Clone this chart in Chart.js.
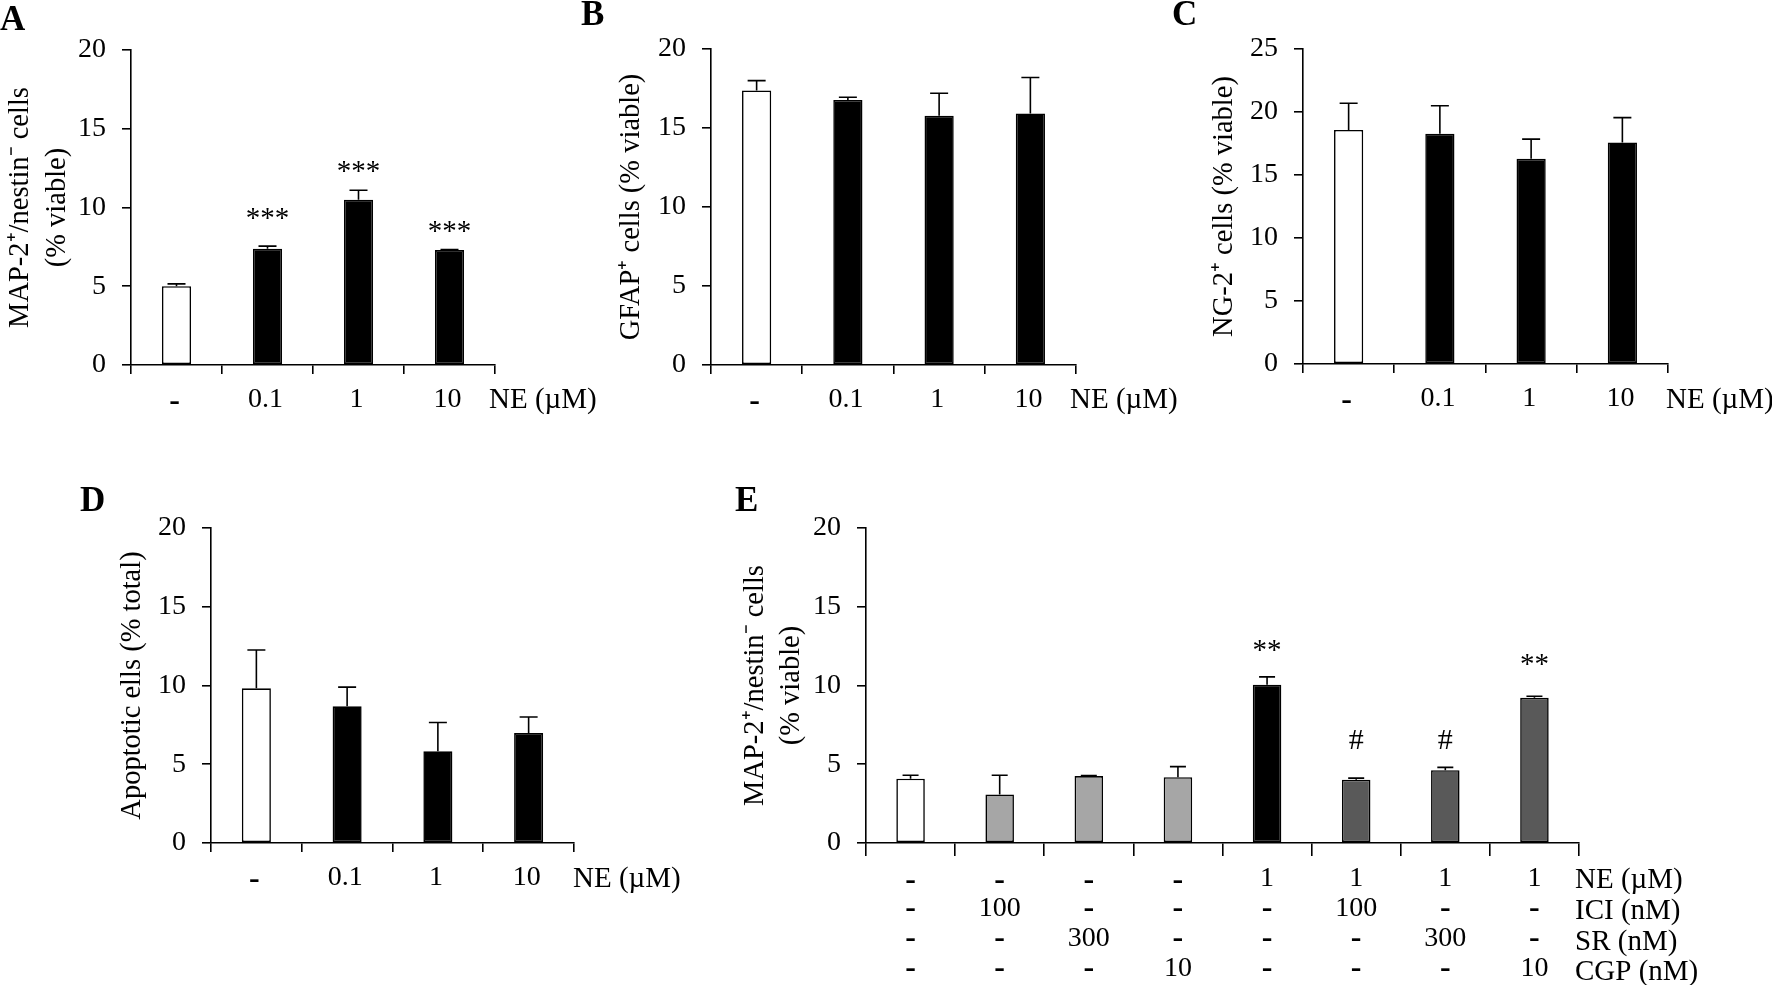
<!DOCTYPE html>
<html><head><meta charset="utf-8">
<script src="https://cdn.jsdelivr.net/npm/chart.js@4"></script>
<style>html,body{margin:0;padding:0;background:#fff;width:1772px;height:985px;overflow:hidden}
canvas{position:absolute;left:0;top:0}</style></head><body>
<script>
// ---- data ----
const neLabels = ['-','0.1','1','10'];
const aValues = [5.0,7.38,10.5,7.3];
const aTops   = [5.15,7.55,11.1,7.33];
const aMarks  = ['','***','***','***'];
const aMarkAt = [0,9.5,12.5,8.7];
const bValues = [17.38,16.78,15.78,15.92];
const bTops   = [18.0,16.95,17.2,18.2];
const cValues = [18.58,18.28,16.28,17.58];
const cTops   = [20.7,20.5,17.85,19.55];
const dValues = [9.82,8.68,5.82,6.98];
const dTops   = [12.25,9.9,7.65,8.0];
const eRowNE  = ['-','-','-','-','1','1','1','1'];
const eRowICI = ['-','100','-','-','-','100','-','-'];
const eRowSR  = ['-','-','300','-','-','-','300','-'];
const eRowCGP = ['-','-','-','10','-','-','-','10'];
const eValues = [4.08,3.08,4.25,4.18,10.05,4.02,4.62,9.22];
const eTops   = [4.3,4.3,4.28,4.85,10.55,4.12,4.8,9.32];
const eMarks  = ['','','','','**','#','#','**'];
const eMarkAt = [0,0,0,0,12.45,6.45,6.45,11.5];

// ---- styling ----
const WHITE='#ffffff', BLACK='#000000', LIGHT='#a6a6a6', DARK='#595959';
const SERIF='"Liberation Serif"';
const W=1772,H=985;

const overlay={
  id:'overlay',
  afterDatasetsDraw(chart,args,o){
    const ctx=chart.ctx,x=chart.scales.x,y=chart.scales.y;
    ctx.save();
    // error bars
    ctx.strokeStyle=BLACK;ctx.lineWidth=1.6;
    const capHalf=o.cap;
    o.tops.forEach((t,i)=>{
      const px=x.getPixelForValue(i),p0=y.getPixelForValue(o.values[i]),p1=y.getPixelForValue(t);
      ctx.beginPath();ctx.moveTo(px,p0);ctx.lineTo(px,p1);
      ctx.moveTo(px-capHalf,p1);ctx.lineTo(px+capHalf,p1);ctx.stroke();
    });
    ctx.fillStyle=BLACK;
    ctx.textBaseline='middle';
    // significance marks
    if(o.marks){
      ctx.textAlign='center';
      o.marks.forEach((m,i)=>{
        if(!m)return;
        ctx.font=(m==='#'?'30px ':'29px ')+SERIF;
        ctx.fillText(m,x.getPixelForValue(i),y.getPixelForValue(o.markAt[i])+(m==='#'?0:4));
      });
    }
    // panel letter
    ctx.textAlign='left';
    ctx.font='bold 35px '+SERIF;
    ctx.fillText(o.letter[0],o.letter[1],o.letter[2]);
    // trailing row labels
    ctx.font='29px '+SERIF;
    o.rowNames.forEach(r=>ctx.fillText(r[0],r[1],r[2]));
    // extra factor rows
    if(o.rows){
      ctx.textAlign='center';
      o.rows.forEach(r=>{
        r[0].forEach((s,i)=>{
          ctx.font=(s==='-'?'bold 32px ':'28px ')+SERIF;
          ctx.fillText(s,x.getPixelForValue(i),r[1]);
        });
      });
    }
    ctx.restore();
  }
};

function panel(c){
  const cv=document.createElement('canvas');
  cv.width=W;cv.height=H;cv.style.width=W+'px';cv.style.height=H+'px';
  document.body.appendChild(cv);
  const lh=c.titleGap, fs=28.5;
  const left=c.titleX-lh/2;
  const xH=60;
  new Chart(cv,{
    type:'bar',
    data:{labels:c.labels,datasets:[{data:c.values,backgroundColor:c.colors,borderColor:BLACK,borderWidth:1.6,
      barPercentage:0.32,categoryPercentage:1,borderSkipped:false}]},
    plugins:[overlay],
    options:{
      responsive:false,animation:false,devicePixelRatio:1,
      layout:{padding:{left:left,top:c.y1,right:W-c.x1,bottom:H-c.y0-xH}},
      plugins:{legend:{display:false},tooltip:{enabled:false},title:{display:false},
        overlay:{values:c.values,tops:c.tops,marks:c.marks,markAt:c.markAt,cap:c.cap,letter:c.letter,rowNames:c.rowNames,rows:c.rows}},
      scales:{
        x:{type:'category',offset:true,
          afterFit(s){s.height=xH;},
          border:{color:BLACK,width:1.6},
          grid:{offset:true,drawOnChartArea:false,drawTicks:true,tickLength:c.xTick,color:BLACK,lineWidth:1.6},
          ticks:{color:BLACK,maxRotation:0,minRotation:0,autoSkip:false,padding:c.xPad,labelOffset:c.xShift,
            font:(ctx)=>(ctx.tick&&ctx.tick.label==='-')?{family:SERIF,size:32,weight:'bold',lineHeight:1.2}:{family:SERIF,size:28,weight:'normal',lineHeight:1.2}}
        },
        y:{min:0,max:c.max,
          afterFit(s){s.width=c.x0-left;},
          border:{color:BLACK,width:1.6},
          grid:{drawOnChartArea:false,tickLength:9,color:BLACK,lineWidth:1.6},
          ticks:{stepSize:5,color:BLACK,padding:16,font:{family:SERIF,size:28}},
          title:{display:true,text:c.title,color:BLACK,padding:0,font:{family:SERIF,size:fs,lineHeight:lh/fs}}
        }
      }
    }
  });
}

const ws=[WHITE,BLACK,BLACK,BLACK];
panel({letter:['A',0,21],labels:neLabels,values:aValues,tops:aTops,marks:aMarks,markAt:aMarkAt,colors:ws,max:20,
  x0:131,x1:495,y0:365,y1:50,cap:9,xTick:9,xPad:9,xShift:-2,titleX:21,titleGap:37,
  title:['MAP-2⁺/nestin⁻ cells','(% viable)'],rowNames:[['NE (µM)',489,400]]});
panel({letter:['B',581,16],labels:neLabels,values:bValues,tops:bTops,colors:ws,max:20,
  x0:711,x1:1076,y0:365,y1:49,cap:9,xTick:9,xPad:9,xShift:-2,titleX:632,titleGap:37,
  title:'GFAP⁺ cells (% viable)',rowNames:[['NE (µM)',1070,400]]});
panel({letter:['C',1172,16],labels:neLabels,values:cValues,tops:cTops,colors:ws,max:25,
  x0:1303,x1:1668,y0:364,y1:49,cap:9,xTick:9,xPad:9,xShift:-2,titleX:1225,titleGap:37,
  title:'NG-2⁺ cells (% viable)',rowNames:[['NE (µM)',1666,400]]});
panel({letter:['D',80,502],labels:neLabels,values:dValues,tops:dTops,colors:ws,max:20,
  x0:211,x1:574,y0:843,y1:528,cap:9,xTick:9,xPad:9,xShift:-2,titleX:133,titleGap:37,
  title:'Apoptotic ells (% total)',rowNames:[['NE (µM)',573,879]]});
panel({letter:['E',735,502],labels:eRowNE,values:eValues,tops:eTops,marks:eMarks,markAt:eMarkAt,
  colors:[WHITE,LIGHT,LIGHT,LIGHT,BLACK,DARK,DARK,DARK],max:20,
  x0:866,x1:1579,y0:843,y1:528,cap:8,xTick:13,xPad:6,xShift:0,titleX:756,titleGap:36,
  title:['MAP-2⁺/nestin⁻ cells','(% viable)'],
  rows:[[eRowICI,909],[eRowSR,939],[eRowCGP,969]],
  rowNames:[['NE (µM)',1575,880],['ICI (nM)',1575,911],['SR (nM)',1575,942],['CGP (nM)',1575,972]]});
</script>
</body></html>
